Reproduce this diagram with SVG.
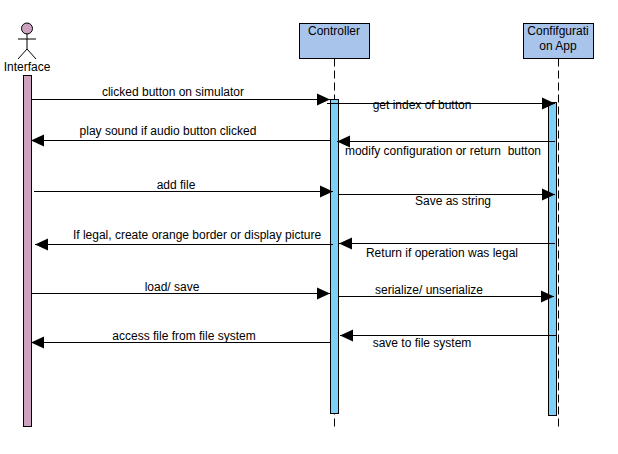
<svg xmlns="http://www.w3.org/2000/svg" width="618" height="454" viewBox="0 0 618 454">
<style>
text{font-family:"Liberation Sans",Arial,sans-serif;font-size:12px;fill:#000;text-anchor:middle;white-space:pre}
.box{fill:#a9c4eb;stroke:#000;stroke-width:1}
.act{fill:#7ed0f7;stroke:#000;stroke-width:1}
.life{stroke:#000;stroke-width:1;stroke-dasharray:8 4;fill:none}
.msg{stroke:#000;stroke-width:1;fill:none;marker-end:url(#a)}
</style>
<defs><marker id="a" markerUnits="userSpaceOnUse" markerWidth="14" markerHeight="14" refX="13" refY="7" orient="auto"><path d="M0 1 L13 7 L0 13 Z" fill="#000"/></marker></defs>
<rect width="618" height="454" fill="#fff"/>
<g id="interface">
<circle cx="27" cy="28.500" r="5.500" fill="#cda2be" stroke="#000"/>
<path d="M27 34V49M18 39H36M27 49L18 59M27 49L36 59" fill="none" stroke="#000"/>
<text x="27" y="71">Interface</text>
<rect x="23.500" y="75.500" width="8" height="351" fill="#cda2be" stroke="#000"/>
</g>
<g id="controller">
<rect class="box" x="299.500" y="23.500" width="70" height="35"/>
<text x="334" y="35">Controller</text>
<path class="life" d="M334.500 58.500V428"/>
<rect class="act" x="330.500" y="99.500" width="8" height="314"/>
</g>
<g id="config">
<rect class="box" x="523.500" y="23.500" width="70" height="35"/>
<text x="558" y="35">Confifgurati</text>
<text x="558" y="50">on App</text>
<path class="life" d="M558.500 58.500V428"/>
<rect class="act" x="548.500" y="102.500" width="8" height="313"/>
</g>
<g id="connectors">
<path class="msg" d="M31 99.500H330"/>
<path class="msg" d="M327 103.500H555"/>
<path class="msg" d="M330 140.500H31"/>
<path class="msg" d="M555 141.500H337"/>
<path class="msg" d="M34 191.500H333"/>
<path class="msg" d="M338 194.500H555"/>
<path class="msg" d="M333 244.500H35"/>
<path class="msg" d="M555 243.500H339"/>
<path class="msg" d="M31 293.500H330"/>
<path class="msg" d="M338 296.500H554"/>
<path class="msg" d="M330 342.500H31"/>
<path class="msg" d="M556 335.500H340"/>
</g>
<g id="labels">
<text x="173" y="96">clicked button on simulator</text>
<text x="422" y="109">get index of button</text>
<text x="168" y="135">play sound if audio button clicked</text>
<text x="443" y="155" xml:space="preserve">modify configuration or return  button</text>
<text x="176" y="189">add file</text>
<text x="453" y="205">Save as string</text>
<text x="197" y="239">If legal, create orange border or display picture</text>
<text x="442" y="257">Return if operation was legal</text>
<text x="172" y="291">load/ save</text>
<text x="429" y="294">serialize/ unserialize</text>
<text x="184" y="340">access file from file system</text>
<text x="422" y="347">save to file system</text>
</g>
</svg>
